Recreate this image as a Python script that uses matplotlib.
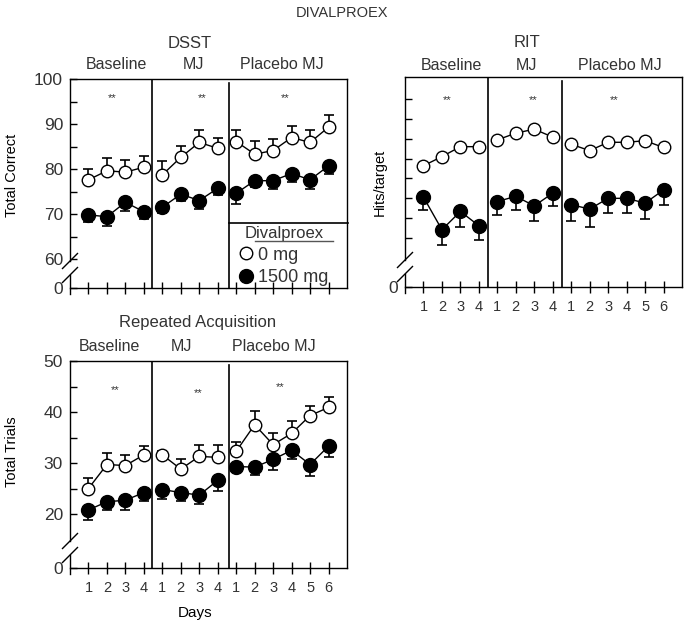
import matplotlib.pyplot as plt
import numpy as np
from matplotlib.lines import Line2D
from matplotlib import transforms

plt.rcParams['font.family'] = ['Liberation Sans', 'DejaVu Sans']
plt.rcParams['text.color'] = '#333333'
plt.rcParams['xtick.color'] = 'black'
plt.rcParams['ytick.color'] = 'black'
plt.rcParams['xtick.labelcolor'] = '#333333'
plt.rcParams['ytick.labelcolor'] = '#333333'

phases = ['Baseline', 'MJ', 'Placebo MJ']
days = [1, 2, 3, 4, 1, 2, 3, 4, 1, 2, 3, 4, 5, 6]
segments = [(0, 4), (4, 8), (8, 14)]

# DSST - total correct
dsst_0mg = [77.6, 79.6, 79.3, 80.4, 78.7, 82.6, 85.9, 84.6, 86.1, 83.3, 84.1, 87.0, 85.9, 89.3]
dsst_0mg_err = [2.5, 2.8, 2.8, 2.6, 3.0, 2.6, 2.8, 2.4, 2.6, 3.0, 2.6, 2.6, 2.8, 2.6]
dsst_1500mg = [69.8, 69.4, 72.6, 70.5, 71.5, 74.4, 73.0, 75.7, 74.6, 77.4, 77.4, 79.0, 77.6, 80.7]
dsst_1500mg_err = [1.5, 2.0, 1.9, 1.6, 1.3, 1.5, 1.9, 1.5, 2.4, 1.5, 1.9, 1.9, 2.0, 1.9]

# RIT - hits/target
rit_0mg = [0.632, 0.655, 0.680, 0.680, 0.697, 0.714, 0.724, 0.704, 0.686, 0.670, 0.691, 0.691, 0.695, 0.678]
rit_0mg_err = [0.005] * 14
rit_1500mg = [0.553, 0.471, 0.517, 0.481, 0.542, 0.555, 0.531, 0.563, 0.534, 0.523, 0.550, 0.550, 0.538, 0.571]
rit_1500mg_err = [0.032, 0.038, 0.038, 0.037, 0.033, 0.035, 0.039, 0.033, 0.042, 0.044, 0.036, 0.036, 0.039, 0.037]

# Repeated acquisition - total trials
ra_0mg = [25.0, 29.7, 29.5, 31.6, 31.6, 28.8, 31.3, 31.1, 32.3, 37.5, 33.6, 35.8, 39.3, 40.9]
ra_0mg_err = [2.1, 2.3, 2.1, 1.8, 0.8, 1.9, 2.2, 2.4, 1.9, 2.6, 2.3, 2.4, 1.9, 2.0]
ra_1500mg = [20.8, 22.4, 22.7, 24.2, 24.8, 24.2, 23.7, 26.6, 29.3, 29.2, 30.7, 32.5, 29.7, 33.3]
ra_1500mg_err = [1.9, 1.7, 1.9, 1.6, 1.9, 1.7, 1.8, 2.0, 1.1, 1.6, 2.0, 1.8, 2.2, 2.2]

xpos = np.arange(1, 15)

fig = plt.figure(figsize=(6.85, 6.25), dpi=100)
W, H = 685, 625


def make_ax(left, top, right, bottom):
    return fig.add_axes([left / W, 1 - bottom / H, (right - left) / W, (bottom - top) / H])


def draw_series(ax, vals, err, filled):
    vals = np.array(vals)
    err = np.array(err)
    for a, b in segments:
        x = xpos[a:b]
        if filled:
            yerr = [err[a:b], np.zeros(b - a)]
        else:
            yerr = [np.zeros(b - a), err[a:b]]
        ax.errorbar(x, vals[a:b], yerr=yerr, fmt='none', ecolor='black',
                    elinewidth=1.2, capsize=3.5, capthick=1.2, zorder=2)
        ax.plot(x, vals[a:b], '-', color='black', lw=1, zorder=3)
        ax.plot(x, vals[a:b], 'o', ms=10 if filled else 9,
                mfc='black' if filled else 'white', mec='black', mew=1, zorder=4)


def style_ax(ax, ylim, yticks, ylabels, dividers, xlabels):
    ax.set_xlim(0, 15)
    ax.set_ylim(*ylim)
    ax.set_yticks(yticks)
    ax.set_yticklabels(ylabels, fontsize=12.5)
    ax.set_xticks(xpos)
    if xlabels:
        ax.set_xticklabels([str(d) for d in days], fontsize=10.5)
    else:
        ax.set_xticklabels([])
    ax.tick_params(axis='y', direction='in', length=5, width=1, pad=5)
    ax.tick_params(axis='x', direction='inout', length=9, width=1, pad=5)
    for s in ['top', 'right', 'bottom']:
        ax.spines[s].set_linewidth(1)
    ax.axvline(dividers[0], color='black', lw=1.2)
    ax.axvline(dividers[1], color='black', lw=1.2, ymax=0.98)

    # broken left axis
    bb = ax.get_position()
    w = bb.width * W
    h = bb.height * H
    up, lo, d = 27, 13, 7.5
    ax.spines['left'].set_visible(False)
    kw = dict(transform=ax.transAxes, color='black', lw=1, clip_on=False)
    ax.plot([0, 0], [up / h, 1], **kw)
    ax.plot([0, 0], [-6 / h, lo / h], **kw)
    for c in (up, lo):
        ax.plot([-d / w, d / w], [(c - d) / h, (c + d) / h], **kw)


def set_ylabel(ax, text, x, y):
    ax.set_ylabel(text, fontsize=10.5, va='center')
    ax.yaxis.set_label_coords(x, y)


def headers(ax, title, title_x, title_y, phase_x, phase_y, star_x, star_y):
    tr = transforms.blended_transform_factory(ax.transData, ax.transAxes)
    ax.text(title_x, title_y, title, transform=tr, ha='center', va='center', fontsize=12)
    for p, px in zip(phases, phase_x):
        ax.text(px, phase_y, p, transform=tr, ha='center', va='center', fontsize=11.5)
    for sx, sy in zip(star_x, star_y):
        ax.text(sx, sy, '**', transform=tr, ha='center', va='center', fontsize=8)


# DSST
ax1 = make_ax(70, 79, 347, 288)
draw_series(ax1, dsst_0mg, dsst_0mg_err, False)
draw_series(ax1, dsst_1500mg, dsst_1500mg_err, True)
dsst_bottom = 100 - 209 / 4.5
style_ax(ax1, (dsst_bottom, 100), [dsst_bottom, 60, 65, 70, 75, 80, 85, 90, 95, 100],
         ['0', '60', '', '70', '', '80', '', '90', '', '100'], (4.45, 8.6), False)
set_ylabel(ax1, 'Total Correct', -0.21, 0.54)
headers(ax1, 'DSST', 6.5, 1.172, [2.54, 6.66, 11.48], 1.067, [2.27, 7.15, 11.64], [0.909] * 3)
ax1.plot([8.6, 15.05], [68.0, 68.0], color='black', lw=1.2, clip_on=False)
handles = [Line2D([], [], ls='none', marker='o', ms=9, mfc='white', mec='black', mew=1),
           Line2D([], [], ls='none', marker='o', ms=10, mfc='black', mec='black', mew=1)]
leg = ax1.legend(handles, ['0 mg', '1500 mg'], title='Divalproex', loc='upper left',
                 bbox_to_anchor=(0.612, 0.295), frameon=False, fontsize=13,
                 title_fontsize=12, handlelength=0.7, handletextpad=0.35,
                 labelspacing=0.3, borderpad=0.0, borderaxespad=0.0)
for t in leg.get_texts():
    t.set_color('#333333')
leg.get_title().set_color('#333333')
ax1.plot([10.0, 14.25], [64.0, 64.0], color='#555555', lw=1)

# RIT
ax2 = make_ax(405, 77, 682, 287)
draw_series(ax2, rit_0mg, rit_0mg_err, False)
draw_series(ax2, rit_1500mg, rit_1500mg_err, True)
rit_top = 0.80 + 22 / 19.9 * 0.05
rit_bottom = 0.45 - 49 / 19.9 * 0.05
style_ax(ax2, (rit_bottom, rit_top), [rit_bottom] + [0.45, 0.50, 0.55, 0.60, 0.65, 0.70, 0.75, 0.80],
         ['0'] + [''] * 8, (4.5, 8.5), True)
set_ylabel(ax2, 'Hits/target', -0.09, 0.5)
headers(ax2, 'RIT', 6.6, 1.162, [2.54, 6.55, 11.64], 1.057, [2.27, 6.93, 11.3], [0.89] * 3)

# Repeated acquisition
ax3 = make_ax(70, 361, 347, 568)
draw_series(ax3, ra_0mg, ra_0mg_err, False)
draw_series(ax3, ra_1500mg, ra_1500mg_err, True)
ra_bottom = 20 - 54 / 5.1
style_ax(ax3, (ra_bottom, 50), [ra_bottom, 20, 25, 30, 35, 40, 45, 50],
         ['0', '20', '', '30', '', '40', '', '50'], (4.45, 8.6), True)
set_ylabel(ax3, 'Total Trials', -0.21, 0.56)
ax3.set_xlabel('Days', fontsize=11, va='center')
ax3.xaxis.set_label_coords(6.77 / 15, -0.217)
headers(ax3, 'Repeated Acquisition', 6.93, 1.188, [2.11, 6.06, 11.04], 1.068,
        [2.44, 6.93, 11.37], [0.86, 0.845, 0.874])

fig.text(342 / W, 1 - 13 / H, 'DIVALPROEX', ha='center', va='center', fontsize=10.5)

fig.savefig('out.png', dpi=100)
